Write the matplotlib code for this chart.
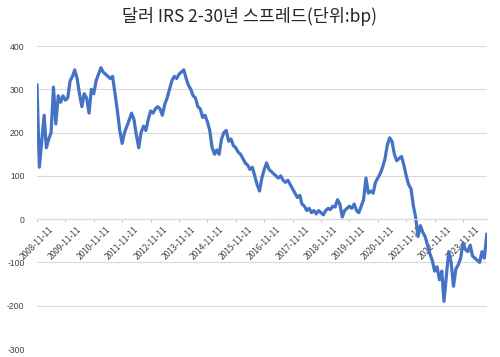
import matplotlib
matplotlib.use("Agg")
import matplotlib.pyplot as plt
import matplotlib.dates as mdates
from matplotlib.ticker import FixedLocator, FixedFormatter
import pandas as pd

title = "달러 IRS 2-30년 스프레드(단위:bp)"
start_date = "2008-11-11"
# monthly values (bp), starting 2008-11-11
spread = [
    310, 120, 180, 240, 165, 185, 200, 305, 220, 285, 270, 285,
    275, 280, 320, 330, 345, 325, 290, 260, 290, 280, 245, 300,
    290, 320, 335, 350, 340, 335, 330, 325, 330, 290, 250, 205,
    175, 200, 215, 230, 245, 230, 195, 165, 200, 215, 205, 230,
    250, 245, 255, 260, 255, 240, 265, 280, 300, 320, 330, 325,
    335, 340, 345, 325, 310, 300, 285, 280, 260, 255, 235, 240,
    225, 205, 165, 150, 160, 150, 185, 200, 205, 180, 185, 170,
    165, 155, 150, 140, 130, 125, 115, 120, 100, 80, 65, 95,
    115, 130, 115, 110, 105, 100, 95, 100, 90, 85, 90, 80,
    70, 60, 50, 55, 35, 30, 20, 25, 15, 20, 12, 20,
    15, 10, 20, 25, 22, 30, 28, 45, 35, 5, 20, 25,
    30, 25, 35, 20, 15, 30, 45, 95, 60, 65, 60, 85,
    95, 105, 120, 140, 170, 188, 180, 150, 135, 140, 145, 125,
    100, 80, 70, 30, 5, -40, -15, -30, -40, -60, -80, -95,
    -120, -110, -140, -120, -190, -130, -75, -100, -155, -115, -105, -90,
    -55, -70, -75, -60, -85, -90, -95, -100, -75, -90, -35,
]
tick_labels = [f"{y}-11-11" for y in range(2008, 2024)]
y_ticks = [-300, -200, -100, 0, 100, 200, 300, 400]

dates = pd.date_range(start_date, periods=len(spread), freq=pd.DateOffset(months=1))
xnum = mdates.date2num(dates.to_pydatetime())
tick_num = mdates.date2num(pd.to_datetime(tick_labels).to_pydatetime())

plt.rcParams['font.family'] = ['Noto Sans CJK KR', 'DejaVu Sans']

fig = plt.figure(figsize=(5.0, 3.57), dpi=100)
ax = fig.add_axes([0.074, 0.0224, 0.90, 0.8486])

ax.plot(xnum, spread, color="#4472C4", lw=2.3, solid_joinstyle="round")

ax.set_ylim(-300, 400)
ax.set_xlim(xnum[0], xnum[-1] + 3)
ax.set_yticks(y_ticks)
ax.set_yticklabels([str(v) for v in y_ticks])
for lab in ax.get_yticklabels():
    lab.set_fontsize(6.2)
    lab.set_color("#404040")
    lab.set_family(["Liberation Sans", "DejaVu Sans"])
ax.tick_params(axis="y", length=0, pad=9)
ax.yaxis.grid(True, color="#d9d9d9", lw=0.8)
ax.set_axisbelow(True)

ax.xaxis.set_major_locator(FixedLocator(tick_num))
ax.xaxis.set_major_formatter(FixedFormatter(tick_labels))
ax.tick_params(axis="x", length=2.5, width=0.6, color="#bfbfbf", pad=1.5,
               labelsize=6.0, labelcolor="#404040", labelrotation=45)
for lab in ax.get_xticklabels():
    lab.set_ha("right")
    lab.set_va("top")
    lab.set_rotation_mode("anchor")
    lab.set_family(["Liberation Sans", "DejaVu Sans"])

for s in ["top", "right", "left"]:
    ax.spines[s].set_visible(False)
ax.spines["bottom"].set_position(("data", 0))
ax.spines["bottom"].set_color("#d9d9d9")
ax.spines["bottom"].set_linewidth(0.8)

fig.text(0.5, 0.953, title, ha="center", va="center", fontsize=12.5, color="#262626")

fig.savefig("out.png", dpi=100)
